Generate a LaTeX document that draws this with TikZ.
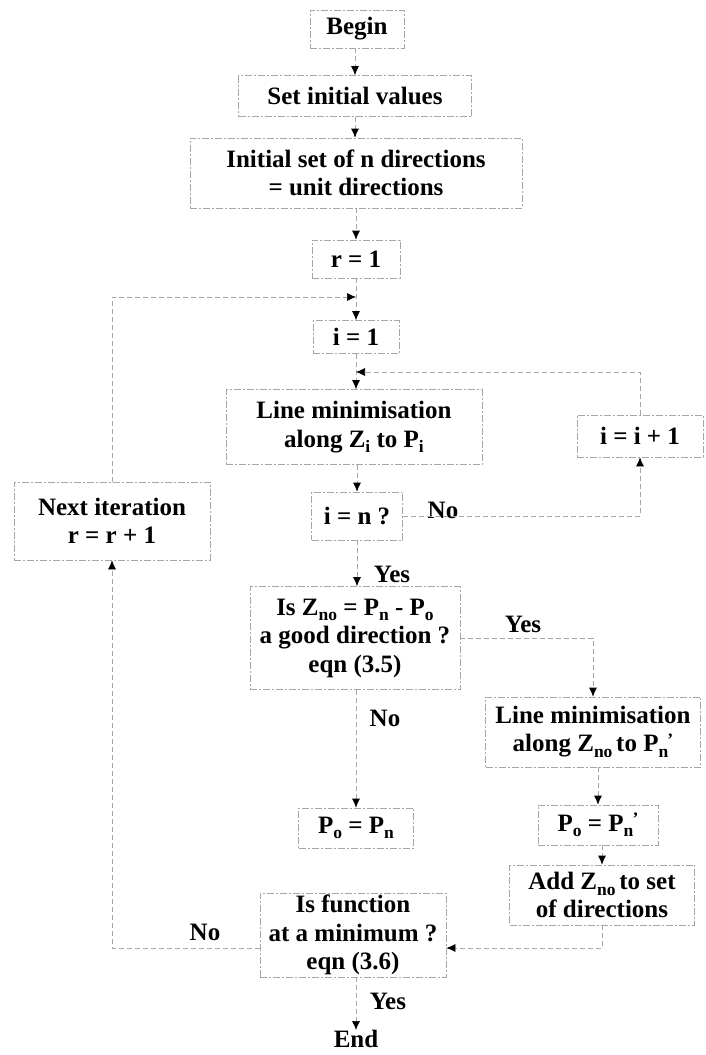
\documentclass[tikz,border=0pt]{standalone}
\usepackage{fontspec}
\setmainfont{Liberation Serif}
\usetikzlibrary{arrows.meta}
\newcommand\sbx[1]{\raisebox{-0.5ex}{\fontsize{17.5}{17.5}\selectfont #1}}
\newcommand\prm{\raisebox{0.55ex}{\fontsize{17.5}{17.5}\selectfont\kern-0.05em’}}
\begin{document}
\begin{tikzpicture}[x=1pt,y=-1pt,
  every node/.style={font=\bfseries\fontsize{25}{28.5}\selectfont, inner sep=0pt},
  box/.style={draw=gray!70, line width=0.7pt, dash pattern=on 7pt off 2pt on 2pt off 2pt, align=center},
  conn/.style={draw=gray!70, line width=0.7pt, dash pattern=on 5pt off 3pt},
  arr/.style={conn, -{Latex[length=9pt,width=8pt,color=black,fill=black]}}]
\useasboundingbox (0,0) rectangle (706,1055);
% boxes
\node[box, minimum width=94, minimum height=38] (begin) at (357,29) {Begin};
\node[box, minimum width=233, minimum height=41] (setinit) at (355,96) {Set initial values};
\node[box, minimum width=332, minimum height=70] (initset) at (356,173) {Initial set of n directions\\= unit directions};
\node[box, minimum width=88, minimum height=38] (r1) at (356,259) {r = 1};
\coordinate (j1) at (356,297);
\node[box, minimum width=86, minimum height=33] (i1) at (356,337) {i = 1};
\coordinate (j2) at (356,372);
\node[box, minimum width=256, minimum height=75] (lm) at (354,427) {Line minimisation\\along Z\sbx{i} to P\sbx{i}};
\node[box, minimum width=126, minimum height=42] (ii) at (640,436) {i = i + 1};
\node[box, minimum width=196, minimum height=78] (next) at (112,521) {Next iteration\\r = r + 1};
\node[box, minimum width=91, minimum height=48] (in) at (357,516) {i = n ?};
\node[box, minimum width=210, minimum height=103] (isz) at (355,638) {Is Z\sbx{no} = P\sbx{n} - P\sbx{o}\\a good direction ?\\eqn (3.5)};
\node[box, minimum width=215, minimum height=70] (lm2) at (593,732) {Line minimisation\\along Z\sbx{no}\kern0.15em to P\sbx{n}\prm};
\node[box, minimum width=115, minimum height=40] (po) at (356,828) {P\sbx{o} = P\sbx{n}};
\node[box, minimum width=120, minimum height=40] (pp) at (598,825) {P\sbx{o} = P\sbx{n}\prm};
\node[box, minimum width=185, minimum height=60] (add) at (602,895) {Add Z\sbx{no}\kern0.15em to set\\of directions};
\node[box, minimum width=186, minimum height=84] (isf) at (353,935) {Is function\\at a minimum ?\\eqn (3.6)};
\node (end) at (356,1039) {End};
% labels
\node (no1) at (443,510) {No};
\node (yes1) at (392,574) {Yes};
\node (yes2) at (523,624) {Yes};
\node (no2) at (385,718) {No};
\node (no3) at (205,932) {No};
\node (yes3) at (388,1001) {Yes};
% connectors
\draw[arr] (begin.south -| setinit.north) -- (setinit.north);
\draw[arr] (setinit.south) -- (setinit.south |- initset.north);
\draw[arr] (initset.south -| r1.north) -- (r1.north);
\draw[arr] (r1.south) -- (i1.north);
\draw[arr] (next.north) |- (j1);
\draw[arr] (i1.south) -- (i1.south |- lm.north);
\draw[arr] (ii.north) |- (j2);
\draw[arr] (lm.south -| in.north) -- (in.north);
\draw[arr] (in.east) -| (ii.south);
\draw[arr] (in.south) -- (in.south |- isz.north);
\draw[arr] (isz.east) -| (lm2.north);
\draw[arr] (isz.south -| po.north) -- (po.north);
\draw[arr] (lm2.south -| pp.north) -- (pp.north);
\draw[arr] (pp.south -| add.north) -- (add.north);
\coordinate (yl) at (0,948);
\draw[arr] (add.south) |- (isf.east |- yl);
\draw[arr] (isf.west |- yl) -| (next.south);
\draw[arr] (isf.south -| end.north) -- (end.north);
\end{tikzpicture}
\end{document}
